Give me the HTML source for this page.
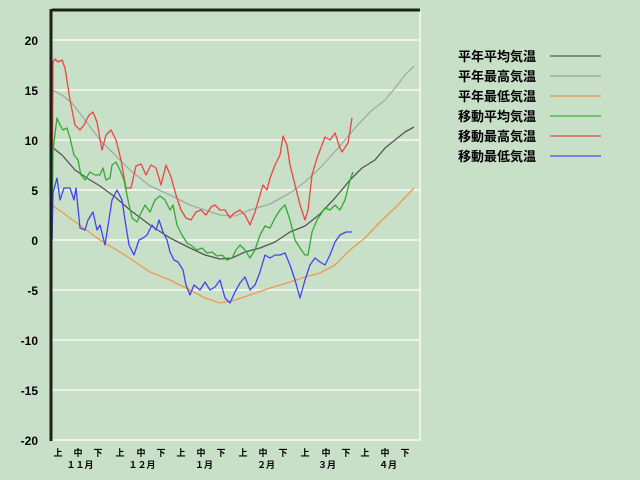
<!DOCTYPE html><html><head><meta charset="utf-8"><style>body{margin:0;background:#c8dfc8}svg{display:block}text{font-family:"Liberation Sans","Noto Sans CJK JP",sans-serif;font-weight:bold;fill:#000}</style></head><body>
<svg width="640" height="480" viewBox="0 0 640 480">
<rect width="640" height="480" fill="#c8dfc8"/>
<g stroke="#eef3ea" stroke-width="2">
<line x1="51" y1="40" x2="420" y2="40"/><line x1="51" y1="90" x2="420" y2="90"/><line x1="51" y1="140" x2="420" y2="140"/><line x1="51" y1="190" x2="420" y2="190"/><line x1="51" y1="290" x2="420" y2="290"/><line x1="51" y1="340" x2="420" y2="340"/><line x1="51" y1="390" x2="420" y2="390"/><line x1="51" y1="440" x2="421" y2="440"/><line x1="420" y1="11" x2="420" y2="440"/>
</g>
<line x1="51" y1="240" x2="420" y2="240" stroke="#eef3ea" stroke-width="2"/>
<g font-size="12" text-anchor="end"><text x="38" y="45">20</text><text x="38" y="95">15</text><text x="38" y="145">10</text><text x="38" y="195">5</text><text x="38" y="245">0</text><text x="38" y="295">-5</text><text x="38" y="345">-10</text><text x="38" y="395">-15</text><text x="38" y="445">-20</text></g>
<g fill="none" stroke-width="1.3" stroke-linejoin="round">
<polyline stroke="#ee9955" points="52,205 70,218 100,240 125,255 150,272 170,280 190,290 205,298 220,303 235,300 250,295 270,288 290,282 305,277 320,273 335,265 350,250 365,238 380,222 395,208 414,188"/>
<polyline stroke="#a0aca0" points="52,90 62,95 72,103 85,120 100,140 115,155 130,170 150,186 170,195 190,205 205,210 220,215 235,216 250,210 270,204 290,193 305,182 320,168 340,146 355,128 370,112 385,100 395,88 405,75 414,66"/>
<polyline stroke="#505a50" points="52,147 62,155 75,170 90,180 100,186 115,197 130,210 150,225 170,238 190,248 205,255 220,259 232,258 245,252 260,248 275,242 290,232 305,226 320,214 335,198 350,180 362,168 375,160 385,148 395,140 405,132 414,127"/>
<polyline stroke="#ee4444" points="52,240 53,62 55,59 58,62 62,60 65,68 70,100 75,125 80,130 84,125 89,115 93,112 97,122 102,150 106,135 111,130 116,140 121,160 126,188 131,188 136,166 141,164 146,175 151,165 156,168 161,185 166,165 171,177 176,195 181,210 186,218 191,220 196,212 201,210 206,215 211,207 215,205 220,210 225,210 230,218 233,214 240,210 245,215 250,225 255,212 260,195 263,185 267,190 270,178 275,165 280,155 283,136 287,145 290,165 295,185 300,205 305,220 308,210 312,175 317,158 325,137 330,140 335,133 340,148 342,152 348,143 352,118"/>
<polyline stroke="#33aa33" points="52,240 53,150 57,118 60,125 63,130 67,128 70,138 74,155 78,160 81,175 85,180 90,172 95,175 100,175 103,168 106,180 110,178 112,165 116,162 120,170 124,180 128,200 132,218 137,222 140,215 145,205 150,212 155,200 160,196 165,200 170,210 173,205 177,225 182,235 187,243 192,246 197,250 202,248 207,253 212,252 217,256 222,255 227,260 232,258 236,250 240,245 245,250 250,258 255,250 260,235 265,226 270,228 275,218 280,210 285,205 290,220 295,240 300,248 305,255 308,255 312,232 317,220 325,208 330,210 335,205 340,210 345,200 350,180 353,172"/>
<polyline stroke="#4444ee" points="52,240 53,193 57,178 60,200 64,188 70,188 74,200 76,188 80,228 85,230 88,220 93,212 97,230 100,225 105,245 112,200 117,190 122,200 125,220 129,245 134,255 139,240 143,238 147,235 152,225 156,230 159,220 163,232 167,240 170,252 174,260 178,262 183,270 186,285 190,295 194,285 200,290 205,282 210,290 215,287 220,280 225,298 230,303 235,292 240,283 245,277 250,290 255,285 260,272 265,255 270,258 275,255 280,255 285,253 290,265 295,280 300,298 305,280 310,265 315,258 320,262 325,265 330,255 335,242 340,235 346,232 352,232"/>
</g>
<line x1="52" y1="10" x2="420" y2="10" stroke="#1a221a" stroke-width="3"/>
<line x1="51" y1="9" x2="51" y2="441" stroke="#1a221a" stroke-width="3"/>
<g font-size="9" text-anchor="middle">
<text x="58" y="456">上</text><text x="78" y="456">中</text><text x="98" y="456">下</text>
<text x="120" y="456">上</text><text x="141" y="456">中</text><text x="161" y="456">下</text>
<text x="181" y="456">上</text><text x="201" y="456">中</text><text x="221" y="456">下</text>
<text x="243" y="456">上</text><text x="263" y="456">中</text><text x="283" y="456">下</text>
<text x="305" y="456">上</text><text x="326" y="456">中</text><text x="346" y="456">下</text>
<text x="365" y="456">上</text><text x="385" y="456">中</text><text x="405" y="456">下</text>
<text x="80" y="468">１１月</text><text x="142" y="468">１２月</text><text x="204" y="468">１月</text><text x="266" y="468">２月</text><text x="327" y="468">３月</text><text x="388" y="468">４月</text>
</g>
<g font-size="13">
<text x="458" y="61">平年平均気温</text><text x="458" y="81">平年最高気温</text><text x="458" y="101">平年最低気温</text><text x="458" y="121">移動平均気温</text><text x="458" y="141">移動最高気温</text><text x="458" y="161">移動最低気温</text>
</g>
<g stroke-width="1.5">
<line x1="550" y1="56" x2="601" y2="56" stroke="#6a766a"/><line x1="550" y1="76" x2="601" y2="76" stroke="#a0aca0"/><line x1="550" y1="96" x2="601" y2="96" stroke="#e0a060"/><line x1="550" y1="116" x2="601" y2="116" stroke="#55bb55"/><line x1="550" y1="136" x2="601" y2="136" stroke="#e06060"/><line x1="550" y1="156" x2="601" y2="156" stroke="#5566ee"/>
</g>
</svg></body></html>
